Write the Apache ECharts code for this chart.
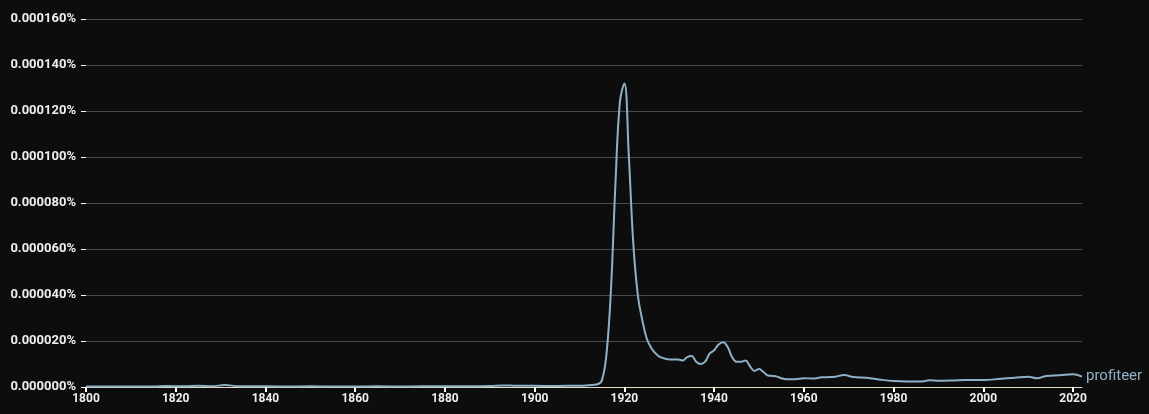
<!DOCTYPE html>
<html>
<head>
<meta charset="utf-8">
<script src="https://cdn.jsdelivr.net/npm/echarts@6/dist/echarts.min.js"></script>
<style>html,body{margin:0;padding:0;background:#0d0d0d;}#c{width:1149px;height:414px;}</style>
</head>
<body>
<div id="c"></div>
<script>
// values in millionths of a percent (1 = 0.000001%)
const years = [1800,1805,1810,1815,1818,1822,1825,1828,1831,1834,1840,1845,1850,1855,1860,1865,1870,1875,1880,1885,1890,1893,1896,1900,1904,1907,1910,1912,1914,1915,1916,1917,1918,1919,1920,1921,1922,1923,1924,1925,1926,1927,1928,1930,1932,1933,1934,1935,1936,1937,1938,1939,1940,1941,1942,1943,1944,1945,1946,1947,1948,1949,1950,1951,1952,1953,1954,1955,1956,1958,1960,1962,1964,1966,1967,1969,1971,1974,1977,1980,1983,1986,1988,1990,1993,1996,2000,2004,2007,2010,2012,2014,2017,2020,2022];
const profiteer = [0.2,0.2,0.2,0.2,0.4,0.3,0.5,0.3,0.9,0.3,0.3,0.2,0.3,0.2,0.2,0.3,0.2,0.3,0.3,0.3,0.4,0.7,0.5,0.5,0.4,0.5,0.5,0.8,1.2,3,14,42,88,124,132,100,62,40,29,21,17,14.5,13,12,12,11.5,13,13.5,11,10,11,14.5,16,18.5,19.5,17.5,13,11,11,11.5,9,7,7.8,6.5,5,4.8,4.5,3.8,3.4,3.4,3.8,3.7,4.2,4.3,4.5,5.2,4.3,4.0,3.2,2.6,2.4,2.4,2.9,2.7,2.8,3,3,3.6,4,4.5,3.8,4.8,5.1,5.5,4.5];
const seriesName = 'profiteer';
const yTicks = [0,20,40,60,80,100,120,140,160];

const chart = echarts.init(document.getElementById('c'));
chart.setOption({
  backgroundColor: '#0d0d0d',
  animation: false,
  grid: {left: 86, right: 67, top: 19, bottom: 27},
  xAxis: {
    type: 'value', min: 1800, max: 2022, interval: 20,
    axisLine: {show: true, lineStyle: {color: '#e6dcc4', width: 1}},
    axisTick: {show: true, length: 5, lineStyle: {color: '#ffffff', width: 2}},
    axisLabel: {color: '#eeeeee', fontWeight: 'bold', fontSize: 12, fontFamily: 'Roboto', margin: 6,
      formatter: v => String(v)},
    splitLine: {show: false}
  },
  yAxis: {
    type: 'value', min: 0, max: 160, interval: 20,
    axisLine: {show: false},
    axisTick: {show: true, length: 5, lineStyle: {color: '#ffffff', width: 1}},
    axisLabel: {color: '#eeeeee', fontWeight: 'bold', fontSize: 13, fontFamily: 'Roboto', margin: 10,
      formatter: v => (v / 1e6).toFixed(6) + '%'},
    splitLine: {show: true, lineStyle: {color: '#4a4a4a', width: 1}}
  },
  series: [{
    name: seriesName,
    type: 'line',
    data: years.map((y, i) => [y, profiteer[i]]),
    smooth: 0.4,
    showSymbol: false,
    lineStyle: {color: '#8fb1c7', width: 2},
    itemStyle: {color: '#8fb1c7'},
    endLabel: {show: true, formatter: seriesName, color: '#8fb1c7', fontSize: 15, fontFamily: 'Roboto', distance: 4}
  }]
});
</script>
</body>
</html>
